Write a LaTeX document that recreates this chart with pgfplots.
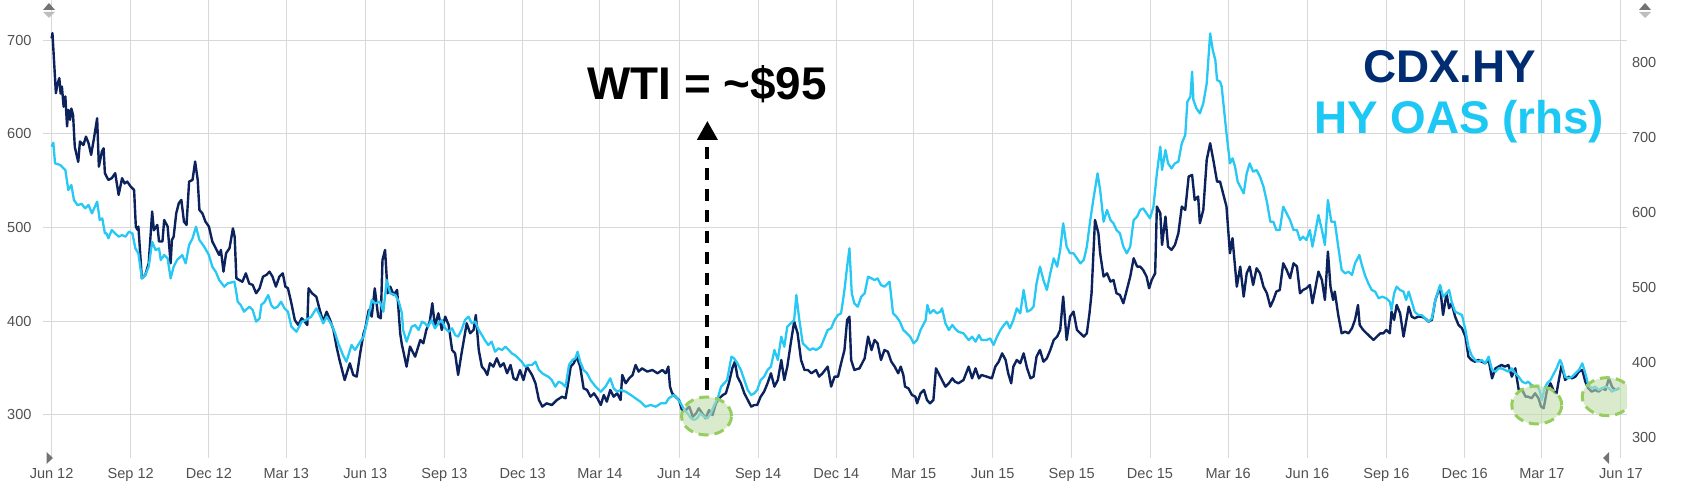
\documentclass[border=0pt]{standalone}
\usepackage{fontspec}
\setmainfont{Liberation Sans}
\usepackage{pgfplots}
\pgfplotsset{compat=1.18}
\usetikzlibrary{arrows.meta}
\definecolor{navyline}{RGB}{12,34,92}
\definecolor{skyline}{RGB}{40,200,245}
\definecolor{cdxtext}{RGB}{0,45,114}
\definecolor{hytext}{RGB}{30,200,245}
\definecolor{gridgray}{RGB}{216,216,216}
\definecolor{ticktext}{RGB}{80,80,80}
\definecolor{ellfill}{RGB}{193,220,172}
\definecolor{ellborder}{RGB}{150,205,95}
\definecolor{icondark}{RGB}{115,115,115}
\definecolor{iconlight}{RGB}{190,190,190}
\newcommand{\bigfont}{\fontsize{46}{50}\selectfont\bfseries}
\tikzset{hl/.style={draw=ellborder, line width=3bp, dash pattern=on 10bp off 6bp, fill=ellfill, fill opacity=0.6, draw opacity=1}}
\begin{document}
\begin{tikzpicture}
\path[use as bounding box] (0bp,0bp) rectangle (1692bp,494bp);
% ---------------- left axis: CDX.HY ----------------
\begin{axis}[
  at={(43bp,36bp)}, anchor=south west, scale only axis,
  width=1584bp, height=458bp,
  xmin=-10, xmax=1833, ymin=253.7, ymax=743,
  axis line style={draw=none}, tick style={draw=none},
  xtick={0,92,183,273,365,457,548,638,730,822,913,1003,1095,1187,1278,1369,1461,1553,1644,1734,1826},
  xticklabels={Jun 12,Sep 12,Dec 12,Mar 13,Jun 13,Sep 13,Dec 13,Mar 14,Jun 14,Sep 14,Dec 14,Mar 15,Jun 15,Sep 15,Dec 15,Mar 16,Jun 16,Sep 16,Dec 16,Mar 17,Jun 17},
  ytick={300,400,500,600,700},
  grid=major, major grid style={draw=gridgray, line width=1bp},
  /pgf/number format/assume math mode=true,
  ticklabel style={font=\fontsize{14.6}{17}\selectfont, text=ticktext},
  xticklabel style={yshift=-6.7bp},
  yticklabel style={xshift=-8bp},
  clip=false,
]
\addplot[navyline, line width=2.4bp, line join=round] coordinates {
(0,702) (1,707.6) (5,643.4) (7,654) (9,659.5) (10.5,643) (12,650.5) (14,629) (16,640) (18,608)
(19.5,625.6) (21.5,615) (23,627) (25,620) (27,586) (31,570) (33,591.8) (37,588) (40,597) (43,590)
(46,577.5) (49,593.5) (53,616.7) (55,565) (58.5,581) (60.5,584.6) (62,558) (66,550.8) (70,552.6) (74,558)
(78,534.8) (82,552.6) (85,547) (88,549) (92,543.7) (96,540) (98,501) (100,497.4) (101,501) (105,445.7)
(109,449.3) (113,461.7) (117,517) (119,497) (123,502.7) (125,485) (129,485) (131,508) (135,501) (138.5,461.7)
(140,486.7) (142,490) (145,515) (148,525.9) (151,529.4) (154,506.3) (157,502.7) (160,549) (164,550.8) (167,570.4)
(170,550.8) (172,518.7) (175.5,515) (179,506.3) (183,501) (187,485) (191,477.8) (195,470.6) (197,476) (200,452.8)
(203,472.4) (207,477.8) (211,499) (213,490) (215,445.7) (218,444) (222,442) (226,451) (230,440) (234,438.6)
(238,429.7) (242,435) (246,447.5) (250,449.3) (253.5,452.8) (257,447.5) (261,436.8) (265,447.5) (269,451) (272,436.8)
(275,435) (279,419) (283,401) (287,395.8) (291,403) (294.5,399.4) (297.5,395.8) (299,435) (303,429.7) (308,426)
(312,411.9) (316,399.4) (320,410) (324,401.2) (328,390.5) (331.5,372.7) (335,358.4) (341,337) (347,354.9) (351,342.4)
(355,340.6) (359,365.5) (363,386.9) (365,392.3) (369,411.9) (372.5,404.7) (376,435) (380,404.7) (383,403) (385,465.3)
(388,476) (391,429.7) (394,436.8) (398,427.9) (402,433.2) (405.6,386.9) (407.6,374.5)
(409,369) (413,351.3) (417,372.7) (423,362) (429,379.8) (432.5,376.2) (436,390.5) (440,399.4) (443,419) (446,394)
(450,408.3) (454,390.5) (458,404.7) (462,395.8) (466,369) (469.5,365.5) (473,342.4) (477,365.5) (481,386.9) (483,397.6)
(487,386.9) (491,390.5) (493.6,406.5) (497,369) (500.6,351.3) (504,347.7) (507,342.4) (510,354.9) (514,351.3) (518,360.2)
(522,351.3) (526,354.9) (530,344.2) (534,353.1) (537.5,338.8) (541,337) (545,347.7) (549,337) (553,351.3) (559,342.4)
(563,333.5) (567,315.7) (571,308.6) (576,312.1) (582,310.3) (588,315.7) (594,319.2) (598,317.5) (601,333.5) (604,351.3)
(607.5,354.9) (611,362) (615,351.3) (619,328.1) (623,326.4) (627,319.2) (631,322.8) (635,317.5) (639,310.3) (642.5,321)
(646,313.9) (650,326.4) (654,319.2) (658,322.8) (662,315.7) (664,342.4) (668,333.5) (672,338.8) (676,342.4) (679.5,353.1)
(683,346) (687,349.5) (693,346) (699,347.7) (705,344.2) (710.6,347.7) (714.5,344.2) (717.6,351.3) (719.5,330) (722,322.8)
(726,319.2) (730,315.7) (734,303.2) (738,305) (742,308.6) (746,297.9) (750,301.4) (753,306.8) (757,301.4) (761,296.1)
(765,305) (769,299.6) (773,312.1) (777,317.5) (781,321) (784.5,322.8) (788,333.5) (792,349.5) (795,356.6) (798,340.6)
(802,333.5) (806,322.8) (810,315.7) (814,308.6) (817.5,310.3) (821,310.3) (825,319.2) (829,324.6) (833,333.5) (837,344.2)
(841,330) (845,337) (849,358.4) (852.5,337) (856,351.3) (860,376.2) (864,399.4) (868,386.9) (872,358.4) (876,347.7)
(880,347.7) (884,344.2) (889.5,347.7) (893,340.6) (897,344.2) (903,351.3) (907,330) (911,340.6) (915,340.6) (918.6,354.9)
(922.5,369) (925.6,401.2) (928.3,404.7) (930.3,358.4) (934,347.7) (940,349.5) (946,360.2) (950,383.4) (954,369) (957.5,379.8)
(961,376.2) (965,358.4) (969,369) (973,367.3) (977,356.6) (981,351.3) (985,344.2)
(988,351.3) (991,342.4) (993,329.9) (997,328.1) (1001,321) (1005,319.2) (1007,312.1) (1011,322.8) (1015,326.4) (1018.5,315.7)
(1022,312.1) (1026,315.7) (1029,349.5) (1032,344.2) (1036,337) (1040,329.9) (1044,333.5) (1048,338.8) (1051,335.3) (1055,333.5)
(1061,337) (1067,351.3) (1071,338.8) (1075,349.5) (1079,338.8) (1082,342.4) (1088,340.6) (1094,338.8) (1098,351.3) (1102,356.6)
(1106,365.5) (1110,358.4) (1113,344.2) (1116.5,333.5) (1119,351.3) (1123,358.4) (1127,354.9) (1131,365.5) (1135,349.5) (1139,338.8)
(1142.5,340.6) (1146,362) (1150,369.1) (1154,356.6) (1158,360.2) (1162,369.1) (1166,379.8) (1170,383.4) (1173.5,390.5) (1177,426.1)
(1181,379.8) (1185,404.7) (1189,410.1) (1193,390.5) (1197,386.9) (1201,383.4) (1204.5,386.9) (1207.6,408.3) (1210,429.7) (1214,508)
(1218,493.8) (1220,472.4) (1224,447.5) (1228,451) (1232,442.1) (1235.5,443.9) (1239,429.7) (1243,427.9) (1247,419) (1251,433.2)
(1255,447.5) (1259,467.1) (1263,458.2) (1266.5,458.2) (1270,454.6) (1274,447.5) (1277,435) (1280,443.9) (1284,451) (1286,522.3)
(1290,515.2) (1292,481.3) (1296,511.6) (1299,479.5) (1303,476) (1307,481.3) (1311,493.8) (1315,522.3) (1319,518.7) (1323,554.4)
(1327,556.1) (1330,529.4) (1334,533) (1336,504.5) (1340,518.7) (1344,572.2) (1348,590) (1352,570.4) (1356,549) (1359.5,549)
(1363,536.5) (1367,522.3) (1371,472.4) (1374,488.5) (1379,436.8) (1383,458.2) (1387,426.1) (1390.5,451) (1394,458.2) (1398,438.6)
(1402,456.4) (1406,451) (1410,436.8) (1414,429.7) (1418,415.4) (1421.5,422.5) (1425,431.5) (1429,433.2) (1433,461.7) (1437,454.6)
(1441,445.7) (1445,461.7) (1449,458.2) (1452.5,429.7) (1456,433.2) (1460,435) (1464,438.6) (1467,419) (1470,433.2) (1474,452.8)
(1478,443.9) (1481.5,422.5) (1485,474.2)
(1488,436.8) (1491,422.5) (1493,431.5) (1497,406.5) (1501,386.9) (1505,388.7) (1509,386.9) (1513,392.3) (1516.5,401.2) (1520,417.2)
(1522,395.8) (1526,390.5) (1530,386.9) (1534,383.4) (1538,379.8) (1542,383.4) (1546,386.9) (1549.5,386.9) (1553,390.5) (1557,386.9)
(1559,410.1) (1562,401.2) (1565,417.2) (1569,408.3) (1573,383.4) (1576,399.4) (1579,415.4) (1582.5,404.7) (1586,403) (1590,404.7)
(1594,404.7) (1598,403) (1602,399.4) (1606,401.2) (1610,422.5) (1615.5,436.8) (1619,406.5) (1623,429.7) (1626,413.6) (1629,419)
(1633,404.7) (1637,395.8) (1641,392.3) (1645,383.4) (1648.5,362) (1652,358.4) (1656,356.6) (1660,358.4) (1664,356.6) (1668,354.9)
(1672,358.4) (1676,338.8) (1680,349.5) (1683.5,351.3) (1687,353.1) (1691,351.3) (1695,353.1) (1699,340.6) (1703,349.5) (1707,326.4)
(1711,326.4) (1715,319.2) (1718,319.2) (1722,317.5) (1726,322.8) (1730,317.5) (1733,308.6) (1736,306.8) (1740,326.4) (1744,333.5)
(1748,324.6) (1751,322.8) (1753,333.5) (1757,353.1) (1761,337) (1765,340.6) (1769,338.8) (1773,340.6) (1777,346) (1781,347.7)
(1784.5,335.3) (1788,328.1) (1792,324.6) (1796,326.4) (1800,324.6) (1804,328.1) (1808,326.4) (1812,338.8) (1815.5,329.9) (1819,326.4)
(1824,328.1)
};
\end{axis}
% ---------------- right axis: HY OAS ----------------
\begin{axis}[
  at={(43bp,36bp)}, anchor=south west, scale only axis,
  width=1584bp, height=458bp,
  xmin=-10, xmax=1833, ymin=272.9, ymax=883.6,
  hide x axis,
  axis line style={draw=none}, tick style={draw=none},
  yticklabel pos=right,
  ytick={300,400,500,600,700,800},
  /pgf/number format/assume math mode=true,
  ticklabel style={font=\fontsize{14.6}{17}\selectfont, text=ticktext},
  yticklabel style={xshift=1.5bp},
]
\addplot[skyline, line width=2.3bp, line join=round] coordinates {
(0,688) (2,693.3) (4,665.8) (10,663.6) (16,656.9) (19.5,630.2) (23,636.9) (26,616.9) (30,610.2) (35,611.6)
(39,605.8) (43,610.2) (47,599.1) (53,614.7) (56,590.2) (59,592.4) (62,572.4) (64,572.4) (66,565.8) (70,576.9)
(74,572.4) (78,568) (82,570.2) (86,568) (90,574.7) (94,572.4) (97.5,552.4) (101,545.8) (105,512.4) (109,516.9)
(113,528) (117,561.3) (121,550.2) (125,552.4) (127,536.9) (131,543.6) (135,539.1) (138.5,512.4) (142,528) (146,536.9)
(152,543.6) (156,532.4) (160,556.9) (164,565.8) (168,581.3) (172,563.6) (177.5,554.7) (183,543.6) (187,528) (191,521.3)
(195,510.2) (201,501.3) (205,505.8) (212.6,508) (214.5,496.9) (216.5,481.3) (220,476.9) (224,468) (230,474.7) (234,470.2)
(238,454.7) (242,459.1) (244,476.9) (248,481.3) (252,490.2) (255.5,476.9) (259,472.4) (263,474.7) (267,481.3) (271,472.4)
(275,468) (279,448) (285,441.3) (291,454.7) (296,456.9) (302,461.3) (308,472.4) (312,463.6) (316,452.4) (320,461.3)
(326,450.2) (330,439.1) (333.5,425.8) (339,410.2) (343,401.3) (349,423.6) (353,416.9) (359,428) (363,434.7) (369,463.6)
(372.5,483.6) (376,479.1) (382,481.3) (386,468) (390,510.2) (394,492.4) (400,490.2) (404,481.3) (407.6,465.8)
(409,443.6) (413,428) (419,448) (423,450.2) (427,443.6) (431,454.7) (434.5,452.4) (438,448) (442,456.9) (446,445.8)
(450,452.4) (454,456.9) (458,445.8) (462,441.3) (466,445.8) (469.5,436.9) (473,434.7) (477,443.6) (481,456.9) (485,461.3)
(489,452.4) (493,454.7) (497,443.6) (500.6,436.9) (504,430.2) (508,423.6) (512,428) (516,414.7) (520,419.1) (524,416.9)
(528,421.3) (532,416.9) (535.5,412.4) (539,410.2) (543,405.8) (547,401.3) (551,394.7) (555,396.9) (559,396.9) (563,401.3)
(567,390.2) (571,385.8) (574,383.6) (578,381.3) (582,376.9) (586,368) (590,374.7) (594,372.4) (598,368) (602,396.9)
(606,403.6) (609.5,405.8) (612,414.7) (615,401.3) (619,390.2) (623,385.8) (627,376.9) (633,368) (639,361.3) (644.5,368)
(650,379.1) (654,365.8) (658,361.3) (662,363.6) (668,361.3) (674,356.9) (679.5,352.4) (685,348) (691,341.3) (697,343.6)
(703,341.3) (709,345.8) (714.5,345.8) (718,352.4) (724,356.9) (728,352.4) (732,345.8) (736,336.9) (740,332.4) (744,325.8)
(747.5,323.6) (751,325.8) (755,332.4) (759,328) (763,325.8) (767,332.4) (771,343.6) (775,352.4) (779,368) (782.5,372.4)
(786,376.9) (791,408) (794,405.8) (798,399.1) (802,390.2) (806,376.9) (810,363.6) (814,356.9) (817.5,359.1) (821,363.6)
(825,376.9) (829,381.3) (833,390.2) (837,394.7) (841,416.9) (845,403.6) (849,434.7) (852.5,421.3) (856,448) (860,452.4)
(864,456.9) (866.5,490.2) (870,456.9) (874,425.8) (878,421.3) (882,416.9) (886,419.1) (889.5,416.9) (895,421.3) (899,432.4)
(903,443.6) (907,445.8) (911,456.9) (915,463.6) (918.6,465.8) (922.5,496.9) (925.6,528) (928.3,552.4) (931,492.4) (934,479.1)
(938,474.7) (942,488) (946,492.4) (950,514.7) (954,512.4) (957.5,510.2) (961,512.4) (965,503.6) (969,501.3) (975,508)
(979,465.8) (983,461.3) (987,454.7)
(991,443.6) (995,439.1) (999,434.7) (1003,425.8) (1007,430.2) (1011,443.6) (1015,452.4) (1017,456.9) (1019,476.9) (1022,465.8)
(1026,470.2) (1030,465.8) (1034,468) (1036,472.4) (1040,452.4) (1044,443.6) (1048,450.2) (1051,445.8) (1055,441.3) (1061,439.1)
(1067,430.2) (1071,434.7) (1075,428) (1079,436.9) (1082,430.2) (1088,430.2) (1092,432.4) (1096,423.6) (1100,434.7) (1104,443.6)
(1108,450.2) (1111.5,454.7) (1115,445.8) (1119,456.9) (1123,472.4) (1127,465.8) (1131,496.9) (1135,468) (1139,470.2) (1142.5,474.7)
(1146,505.8) (1150,528) (1154,510.2) (1158,496.9) (1162,519.1) (1166,539.1) (1170,528) (1173.5,550.2) (1177,585.8) (1181,554.7)
(1185,545.8) (1189,545.8) (1193,539.1) (1197,532.4) (1201,536.9) (1204.5,554.7) (1208,585.8) (1212,616.9) (1217,652.4) (1220,630.2)
(1224,588) (1228,603.6) (1232,590.2) (1235.5,585.8) (1239,576.9) (1243,572.4) (1247,554.7) (1251,545.8) (1255,554.7) (1259,590.2)
(1263,594.7) (1266.5,603.6) (1270,605.8) (1274,599.1) (1278,592.4) (1282,608) (1286,652.4) (1290,688) (1292,656.9) (1296,683.6)
(1299,665.8) (1303,659.1) (1307,665.8) (1311,668) (1315,692.4) (1319,703.6) (1321.5,748) (1325,754.7) (1327,788) (1328.5,750.2)
(1332,739.1) (1336,732.4) (1340,745.8) (1344,772.4) (1348,839.1) (1351,816.9) (1354,803.6) (1356,776.9) (1359.5,774.7) (1361.4,768)
(1363,750.2) (1367,705.8) (1371,665.8) (1374,672.4) (1377,661.3) (1380,641.3) (1383,634.7) (1387,625.8) (1390.5,652.4) (1394,665.8)
(1398,654.7) (1402,656.9) (1406,648) (1410,634.7) (1414,614.7) (1418,588) (1421.5,588) (1425,576.9) (1429,576.9) (1433,608)
(1437,599.1) (1441,590.2) (1445,576.9) (1449,576.9) (1452.5,563.6) (1456,568) (1460,563.6) (1464,576.9) (1467,554.7) (1470,572.4)
(1474,596.9) (1478,576.9) (1481.5,556.9) (1485,616.9)
(1489,588) (1493,588) (1497,554.7) (1501,523.6) (1505,519.1) (1509,521.3) (1513,516.9) (1516.5,532.4) (1521.6,543.6) (1524,532.4)
(1528,516.9) (1532,505.8) (1536,496.9) (1540,494.7) (1544,485.8) (1548,488) (1553,485.8) (1557,481.3) (1559,470.2) (1562,492.4)
(1565,501.3) (1569,496.9) (1573,494.7) (1576,483.6) (1579,494.7) (1582.5,481.3) (1586,468) (1590,463.6) (1594,463.6) (1598,459.1)
(1602,454.7) (1606,459.1) (1610,483.6) (1615.5,503.6) (1619,488) (1623,492.4) (1626,496.9) (1629,481.3) (1633,468) (1637,465.8)
(1641,463.6) (1645,443.6) (1648.5,421.3) (1652,410.2) (1656,403.6) (1660,401.3) (1664,403.6) (1668,399.1) (1672,408) (1676,390.2)
(1680,388) (1683.5,392.4) (1687,392.4) (1691,390.2) (1695,388) (1699,392.4) (1703,385.8) (1707,381.3) (1711,374.7) (1715,372.4)
(1718,374.7) (1722,370.2) (1726,368) (1729,368) (1731,363.6) (1734,350.2) (1737,365.8) (1740,372.4) (1744,376.9) (1748,385.8)
(1751,392.4) (1755,403.6) (1757,399.1) (1761,381.3) (1765,379.1) (1769,381.3) (1773,385.8) (1777,390.2) (1781,399.1) (1784.5,385.8)
(1788,370.2) (1792,365.8) (1796,368) (1800,363.6) (1804,365.8) (1808,368) (1812,365.8) (1815.5,361.3) (1819,363.6) (1824,365.8)
};
% highlighted ellipses
\path[hl] (axis cs:762,328.9) ellipse [x radius=25bp, y radius=19bp];
\path[hl] (axis cs:1728,343.6) ellipse [x radius=25bp, y radius=19bp];
\path[hl] (axis cs:1810,354.7) ellipse [x radius=25bp, y radius=19bp];
% arrow and annotation
\draw[black, line width=4bp, dash pattern=on 12bp off 9bp, -{Triangle[width=20bp,length=19bp]}]
  (axis cs:763,363.6) -- (axis cs:763,722.3);
\node[anchor=base, inner sep=0pt, font=\bigfont, text=black] at (axis cs:762.6,751.2) {WTI = \textasciitilde\$95};
\node[anchor=base, inner sep=0pt, font=\bigfont, text=cdxtext] at (axis cs:1626.7,773.3) {CDX.HY};
\node[anchor=base, inner sep=0pt, font=\bigfont, text=hytext] at (axis cs:1637.7,705.9) {HY OAS (rhs)};
\end{axis}
% navigator handles
\fill[icondark] (43bp,484bp) -- (55bp,484bp) -- (49bp,491bp) -- cycle;
\fill[iconlight] (43bp,482bp) -- (55bp,482bp) -- (49bp,476bp) -- cycle;
\fill[icondark] (1639bp,484bp) -- (1651bp,484bp) -- (1645bp,491bp) -- cycle;
\fill[iconlight] (1639bp,482bp) -- (1651bp,482bp) -- (1645bp,476bp) -- cycle;
\fill[icondark] (46.5bp,42bp) -- (46.5bp,30bp) -- (53bp,36bp) -- cycle;
\fill[icondark] (1609bp,42bp) -- (1609bp,30bp) -- (1603bp,36bp) -- cycle;
\end{tikzpicture}
\end{document}
